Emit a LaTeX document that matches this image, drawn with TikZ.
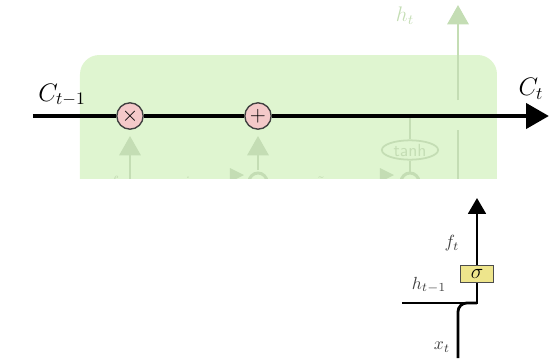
\documentclass[tikz,border=0pt]{standalone}
\usepackage{amsmath,amssymb}
\usetikzlibrary{arrows.meta,shapes.geometric}
\definecolor{cellgreen}{HTML}{DFF5D0}
\definecolor{fadegreen}{HTML}{C4DDB4}
\definecolor{gatepink}{HTML}{F4C9C9}
\definecolor{gateyellow}{HTML}{EEE58C}
\tikzset{
  gate/.style={circle,draw=black!75,fill=gatepink,line width=0.8pt,minimum size=15pt,inner sep=0pt},
  faded/.style={fadegreen,line width=1.7pt},
  fadetip/.style={-{Triangle[length=11pt,width=12pt]}},
  wire/.style={line width=1.6pt},
  celllabel/.style={text=black!75}
}
\begin{document}
\begin{tikzpicture}[x=0.02cm,y=-0.02cm]
\useasboundingbox (0,0) rectangle (549,362);
% faded cell behind the cell state
\begin{scope}
\clip (0,0) rectangle (549,178);
\fill [cellgreen,rounded corners=11pt] (80,55) rectangle (497,240);
\draw [faded,fadetip] (130,190)--(130,136);
\draw [faded,fadetip] (258,170)--(258,136);
\node (tanhc) [ellipse,draw=fadegreen,line width=1pt,minimum width=32pt,minimum height=11pt,inner sep=0pt,text=fadegreen,font=\sffamily] at (410,150) {tanh};
\draw [faded] (410,116)--(tanhc.north);
\draw [faded] (tanhc.south)--(410,172);
\draw [faded] (458,130)--(458,190);
\draw [faded] (410,182) circle (9);
\draw [faded] (258,182) circle (9);
\fill [fadegreen] (230,168)--(244,175)--(230,182)--cycle;
\fill [fadegreen] (380,168)--(394,175)--(380,182)--cycle;
\node [text=fadegreen] at (116,184) {$f_t$};
\node [text=fadegreen] at (190,184) {$i_t$};
\node [text=fadegreen] at (322,186) {$\tilde{C}_t$};
\end{scope}
\draw [faded,fadetip] (458,100)--(458,5);
\node [text=fadegreen] at (405,16) {\large$h_t$};
% cell state
\coordinate (cin) at (33,116);
\coordinate (cout) at (549,116);
\node (mult) [gate] at (130,116) {\large$\times$};
\node (plus) [gate] at (258,116) {\large$+$};
\draw [line width=2.8pt,-{Triangle[length=13pt,width=14pt]}] (cin)--(mult)--(plus)--(cout);
\node (cprev) at (62,95) {\Large$C_{t-1}$};
\node (cnext) at (531,89) {\Large$C_t$};
% forget gate
\coordinate (join) at (477,303);
\coordinate (hin) at (402,303);
\coordinate (xin) at (458,358);
\coordinate (fout) at (477,198);
\node (sig) [draw=black!70,fill=gateyellow,line width=0.6pt,minimum width=19pt,minimum height=10pt,inner sep=0pt] at (477,274) {\large$\sigma$};
\draw [wire] (hin)--(join)--(sig);
\draw [wire,rounded corners=5pt] (xin)|-(join);
\draw [wire,-{Triangle[length=9pt,width=10pt]}] (sig)--(fout);
\node (flab) [celllabel] at (452,243) {$f_t$};
\node (hlab) [celllabel] at (429,285) {$h_{t-1}$};
\node (xlab) [celllabel] at (442,347) {$x_t$};
\end{tikzpicture}
\end{document}
